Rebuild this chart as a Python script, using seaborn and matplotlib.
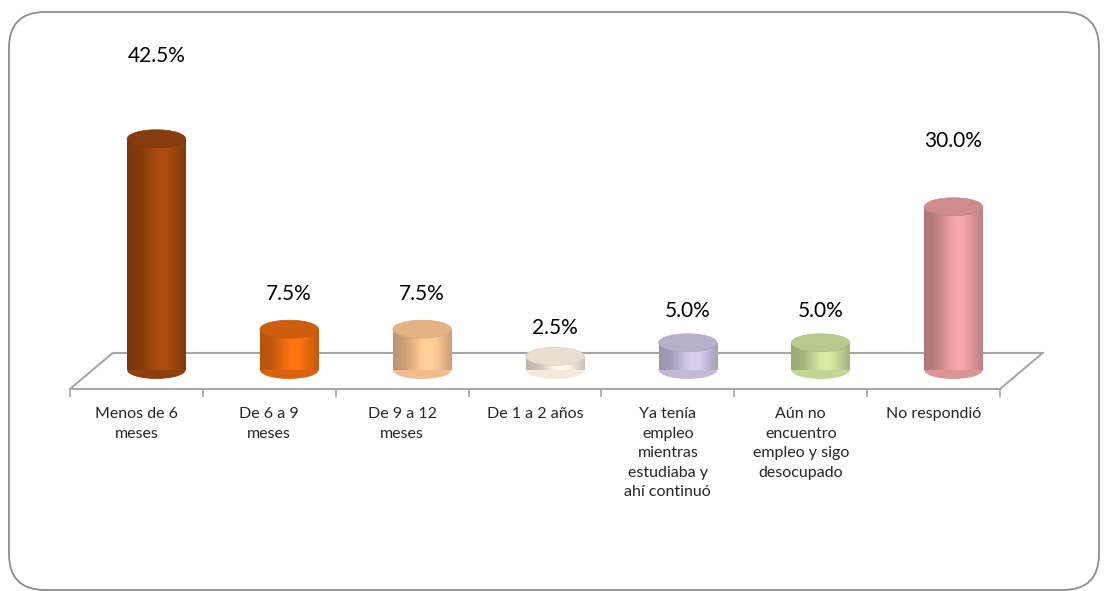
import numpy as np
import pandas as pd
import seaborn as sns
import matplotlib
matplotlib.use("Agg")
import matplotlib.pyplot as plt
from matplotlib.patches import Ellipse, FancyBboxPatch
from matplotlib.colors import to_rgb

categories = ["Menos de 6\nmeses", "De 6 a 9\nmeses", "De 9 a 12\nmeses", "De 1 a 2 años",
              "Ya tenía\nempleo\nmientras\nestudiaba y\nahí continuó",
              "Aún no\nencuentro\nempleo y sigo\ndesocupado", "No respondió"]
values = [42.5, 7.5, 7.5, 2.5, 5.0, 5.0, 30.0]
colors = ["#A0470F", "#EC6C10", "#F9C290", "#F6ECDE", "#CBC0DF", "#C7DC99", "#E59C9C"]

df = pd.DataFrame({"cat": categories, "val": values})

sns.set_theme(style="white")
plt.rcParams['font.family'] = ['Lato', 'DejaVu Sans']

fig = plt.figure(figsize=(11.06, 5.91), dpi=100)
W, H = 1106, 591
# axes: front floor edge x 70..1000 px, y from 389 (bottom) to 40 (top)
ax = fig.add_axes([70 / W, (H - 389) / H, 930 / W, 349 / H])

sns.barplot(data=df, x="cat", y="val", hue="cat", palette=colors, legend=False,
            width=0.44, ax=ax, saturation=1)

shift = 0.15        # bars sit in the middle of the floor depth
ell_h = 3.3         # ellipse height in data units
t = np.linspace(0, 1, 120)
shade = 0.76 + 0.32 * np.exp(-((t - 0.6) / 0.32) ** 2)

for p, c in zip(ax.patches, colors):
    p.set_x(p.get_x() + shift)
    x0, w, h = p.get_x(), p.get_width(), p.get_height()
    rgb = np.array(to_rgb(c))
    lum = rgb @ np.array([0.3, 0.59, 0.11])
    k = 0.78 + 0.17 * lum
    grad = np.clip(rgb[None, None, :] * shade[None, :, None], 0, 1)
    p.set_facecolor("none")
    p.set_edgecolor("none")
    im = ax.imshow(grad, extent=(x0, x0 + w, 0, h), aspect="auto", zorder=2,
                   interpolation="bilinear")
    im.set_clip_path(p)
    # bottom cap
    ax.add_patch(Ellipse((x0 + w / 2, 0), w, ell_h, facecolor=np.clip(rgb * (k + 0.05), 0, 1),
                         edgecolor="none", zorder=1.9))
    # top cap
    ax.add_patch(Ellipse((x0 + w / 2, h), w, ell_h, facecolor=np.clip(rgb * k, 0, 1),
                         edgecolor=np.clip(rgb * (k - 0.05), 0, 1), lw=0.5, zorder=3))

for i, v in enumerate(values):
    ax.text(i + shift, v * 1.25 + 4.6, f"{v:.1f}%", ha="center", va="center",
            fontsize=15, color="black")

ax.set_xlim(-0.5, 6.5)
ax.set_ylim(-3.5, 60.65)

# floor
gray = "#A6A6A6"
dx, back_y, front_y = 0.32, 3.1, -3.5
ax.plot([-0.5 + dx, 6.5 + dx], [back_y, back_y], color=gray, lw=1.5, zorder=1, clip_on=False)
ax.plot([-0.5, -0.5 + dx], [front_y, back_y], color=gray, lw=1.5, zorder=1, clip_on=False)
ax.plot([6.5, 6.5 + dx], [front_y, back_y], color=gray, lw=1.5, zorder=1, clip_on=False)

for s in ["top", "left", "right"]:
    ax.spines[s].set_visible(False)
ax.spines["bottom"].set_color(gray)
ax.spines["bottom"].set_linewidth(1.5)
ax.set_yticks([])
ax.set_xticks(np.arange(-0.5, 7, 1), minor=True)
ax.tick_params(axis="x", which="minor", bottom=True, length=6, color=gray, width=1.2)
ax.tick_params(axis="x", which="major", bottom=False, length=0, pad=13, labelsize=11.5)
for lbl in ax.get_xticklabels():
    lbl.set_linespacing(1.5)
ax.set_xlabel("")
ax.set_ylabel("")
ax.patch.set_alpha(0)

frame = FancyBboxPatch((0.09, 0.01), 10.9, 5.78, boxstyle="round,pad=0,rounding_size=0.36",
                       transform=fig.dpi_scale_trans, facecolor="none",
                       edgecolor="#8C8C8C", lw=1.3)
fig.patches.append(frame)

fig.savefig("out.png", dpi=100)
